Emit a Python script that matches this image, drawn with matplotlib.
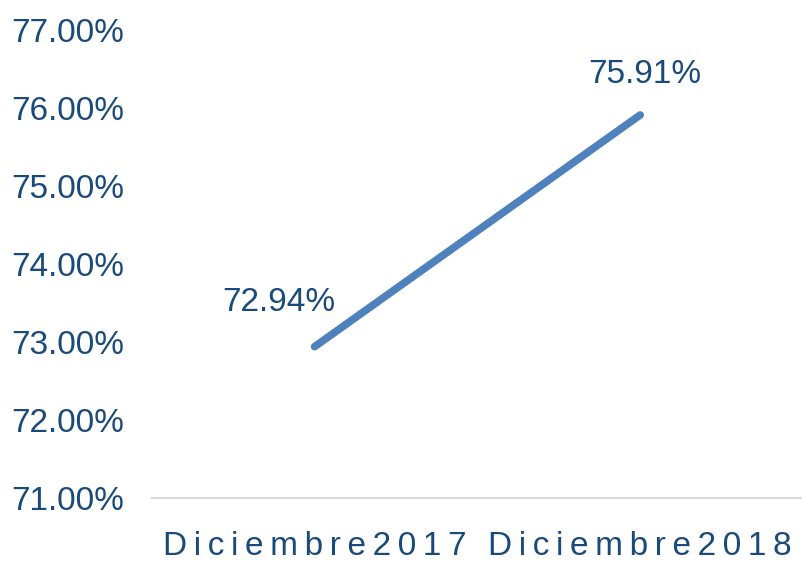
import matplotlib
matplotlib.use("Agg")
import matplotlib.pyplot as plt
from matplotlib.ticker import FuncFormatter

categories = ["Diciembre2017", "Diciembre2018"]
values = [72.94, 75.91]
yticks = [71, 72, 73, 74, 75, 76, 77]

text_col = "#1A4A7A"
line_col = "#4F81BD"

plt.rcParams['font.family'] = ['Liberation Sans Narrow', 'Liberation Sans', 'DejaVu Sans']

fig = plt.figure(figsize=(8.03, 5.65), dpi=100)
ax = fig.add_axes([0.189, 0.1186, 0.811, 0.8284])

x = list(range(len(categories)))
ax.plot(x, values, color=line_col, linewidth=5.5, solid_capstyle="round")

ax.set_xlim(-0.5, 1.5)
ax.set_ylim(71, 77)
ax.set_yticks(yticks)
ax.yaxis.set_major_formatter(FuncFormatter(lambda v, p: f"{v:.2f}%"))
ax.set_xticks(x)
ax.set_xticklabels(["\u2009".join(c) for c in categories])

ax.tick_params(axis="y", length=0, labelsize=24, labelcolor=text_col, pad=20)
ax.tick_params(axis="x", length=0, labelsize=24, labelcolor=text_col, pad=24)

for s in ["top", "right", "left"]:
    ax.spines[s].set_visible(False)
ax.spines["bottom"].set_color("#D9D9D9")
ax.spines["bottom"].set_linewidth(1.5)

ax.annotate(f"{values[0]:.2f}%", (x[0], values[0]), xytext=(-26, 32),
            textcoords="offset points", ha="center", va="center",
            fontsize=24, color=text_col)
ax.annotate(f"{values[1]:.2f}%", (x[1], values[1]), xytext=(3, 29),
            textcoords="offset points", ha="center", va="center",
            fontsize=24, color=text_col)

fig.savefig("out.png", dpi=100)
